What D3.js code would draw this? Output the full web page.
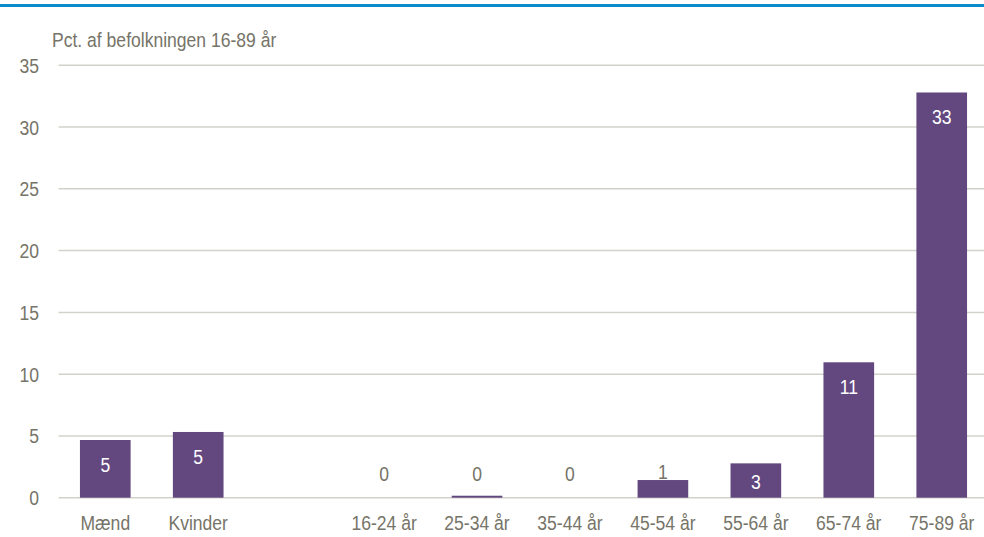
<!DOCTYPE html>
<html><head><meta charset="utf-8">
<script src="https://cdn.jsdelivr.net/npm/d3@7"></script>
<style>
html,body{margin:0;padding:0;background:#fff;}
svg{display:block;}
text{font-family:"Liberation Sans",Arial,sans-serif;}
</style></head>
<body>
<svg id="chart" width="984" height="537"></svg>
<script>
const categories = ["Mænd","Kvinder","","16-24 år","25-34 år","35-44 år","45-54 år","55-64 år","65-74 år","75-89 år"];
const values = [4.67,5.32,null,0,0.16,0,1.43,2.78,10.96,32.8];
const yTicks = [0,5,10,15,20,25,30,35];
const yTitle = "Pct. af befolkningen 16-89 år";

const svg = d3.select("#chart");
const W = 984, H = 537;
const textColor = "#767468";
const barColor = "#634880";
const gridColor = "#d3d2ca";
const FS = 19.5, SX = 0.9;
const FF = '"Liberation Sans",Arial,sans-serif';

// top blue rule
svg.append("rect").attr("x",0).attr("y",4).attr("width",W).attr("height",3).attr("fill","#0b8bc9");

const y = d3.scaleLinear().domain([0,35]).range([497.7,65.3]);
const x = d3.scaleBand().domain(categories).range([58.8,988.2]).paddingInner(0.455).paddingOuter(0.2275);

// gridlines
svg.append("g").selectAll("line").data(yTicks).join("line")
  .attr("x1",58.5).attr("x2",W)
  .attr("y1",d=>y(d)).attr("y2",d=>y(d))
  .attr("stroke",gridColor).attr("stroke-width",1.5);

// y axis labels
const yAxis = d3.axisLeft(y).tickValues(yTicks).tickSize(0).tickPadding(0);
const gy = svg.append("g").attr("transform","translate(39,0)").call(yAxis);
gy.select(".domain").remove();
gy.selectAll("text").attr("x",0).attr("fill",textColor).attr("font-size",FS).attr("dy","0.36em")
  .attr("transform",`scale(${SX},1)`).style("font-family",FF);

// y title
svg.append("text").attr("transform",`translate(52,46.5) scale(${SX},1)`)
  .attr("fill",textColor).attr("font-size",FS).text(yTitle);

// bars
const data = categories.map((c,i)=>({c, v: values[i]})).filter(d=>d.v!==null);
svg.append("g").selectAll("rect").data(data).join("rect")
  .attr("x",d=>x(d.c)).attr("width",x.bandwidth())
  .attr("y",d=>y(d.v)).attr("height",d=>y(0)-y(d.v))
  .attr("fill",barColor);

// value labels
function labelY(d){
  const top=y(d.v), bot=y(0);
  if(d.v>=2) return Math.min(top+24.5,(top+bot)/2+1);
  return Math.min(top-8, bot-24);
}
svg.append("g").selectAll("text").data(data).join("text")
  .attr("transform",d=>`translate(${x(d.c)+x.bandwidth()/2},${labelY(d)}) scale(${SX},1)`)
  .attr("text-anchor","middle")
  .attr("font-size",FS)
  .attr("dy","0.36em")
  .attr("fill",d=>d.v>=2?"#ffffff":textColor)
  .text(d=>Math.round(d.v));

// x axis labels
const xAxis = d3.axisBottom(x).tickSize(0).tickPadding(0);
const gx = svg.append("g").attr("transform","translate(0,530)").call(xAxis);
gx.select(".domain").remove();
gx.selectAll("text").attr("y",0).attr("fill",textColor).attr("font-size",FS).attr("dy",0)
  .attr("transform",`scale(${SX},1)`).style("font-family",FF);
</script>
</body></html>
